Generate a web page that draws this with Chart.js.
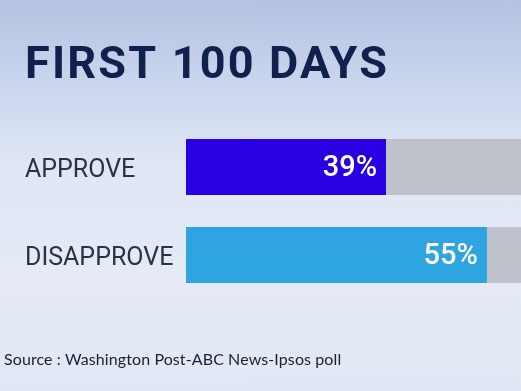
<!DOCTYPE html>
<html>
<head>
<meta charset="utf-8">
<script src="https://cdn.jsdelivr.net/npm/chart.js@4"></script>
<style>
  html, body { margin: 0; padding: 0; }
  body {
    width: 521px; height: 391px; overflow: hidden; position: relative;
    background: linear-gradient(to bottom, #b5c2e1 0%, #cbd6ee 22%, #dfe6f5 42%, #e5eaf6 70%, #e2e7f5 100%);
  }
  #wrap { position: absolute; left: 0; top: 0; width: 521px; height: 391px; }
  .source {
    position: absolute; left: 4px; top: 349px;
    font: 16px/20px Lato, sans-serif; letter-spacing: 0.1px; color: #1a2030;
  }
</style>
</head>
<body>
<div id="wrap"><canvas id="poll-chart"></canvas></div>
<div class="source">Source : Washington Post-ABC News-Ipsos poll</div>
<script>
const categories = ['APPROVE', 'DISAPPROVE'];
const percentValues = [39, 55];
const barColors = ['#2a00e2', '#2ea4e0'];
const trackValues = [100, 100];

// judul pakai jarak huruf lebar, lalu dikembalikan sebelum label sumbu y (z: 1) digambar
const titleSpacing = {
  id: 'titleSpacing',
  beforeDraw(chart) { chart.ctx.letterSpacing = '2.2px'; },
  beforeDatasetsDraw(chart) { chart.ctx.letterSpacing = '0px'; }
};

// tulis angka persen di ujung kanan bar
const valueLabels = {
  id: 'valueLabels',
  afterDatasetsDraw(chart) {
    const ctx = chart.ctx;
    const meta = chart.getDatasetMeta(0);
    ctx.save();
    ctx.fillStyle = '#ffffff';
    ctx.font = '500 29px Roboto';
    ctx.textAlign = 'right';
    ctx.textBaseline = 'middle';
    meta.data.forEach((bar, i) => {
      ctx.fillText(percentValues[i] + '%', bar.x - 9, bar.y + 2);
    });
    ctx.restore();
  }
};

new Chart(document.getElementById('poll-chart'), {
  type: 'bar',
  data: {
    labels: categories,
    datasets: [
      {
        data: percentValues,
        backgroundColor: barColors,
        borderWidth: 0,
        grouped: false,
        barPercentage: 0.636,
        categoryPercentage: 1
      },
      {
        data: trackValues,
        backgroundColor: '#bfc1cb',
        borderWidth: 0,
        grouped: false,
        barPercentage: 0.636,
        categoryPercentage: 1
      }
    ]
  },
  options: {
    indexAxis: 'y',
    responsive: true,
    maintainAspectRatio: false,
    animation: false,
    layout: { padding: { left: 25, right: 0, top: 0, bottom: 92 } },
    plugins: {
      legend: { display: false },
      tooltip: { enabled: false },
      title: {
        display: true,
        text: 'FIRST 100 DAYS',
        align: 'start',
        color: '#11214d',
        font: { family: 'Roboto', size: 45, weight: 'bold', lineHeight: 1 },
        padding: { top: 44, bottom: 34 }
      }
    },
    scales: {
      x: {
        display: false,
        min: 7.3,
        max: 60.4
      },
      y: {
        grid: { display: false },
        border: { display: false },
        ticks: {
          z: 1,
          crossAlign: 'far',
          labelOffset: 4,
          color: '#2b3240',
          font: { family: 'Roboto', size: 25 }
        },
        afterFit(axis) { axis.width = 161; }
      }
    }
  },
  plugins: [titleSpacing, valueLabels]
});
</script>
</body>
</html>
